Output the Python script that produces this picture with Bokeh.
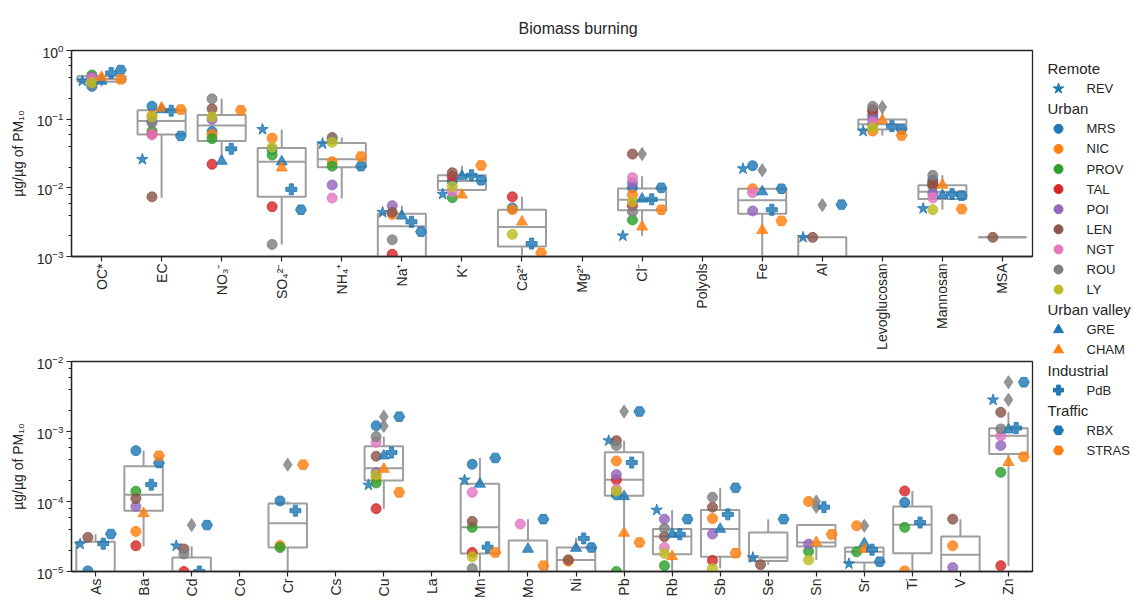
import math
from bokeh.plotting import figure
from bokeh.layouts import row, column
from bokeh.models import ColumnDataSource, FactorRange, Range1d, LogTicker, Title
from bokeh.transform import dodge
from bokeh.embed import file_html
from bokeh.resources import INLINE
from bokeh.core.properties import value

nan = float("nan")

# ---------------- categories ----------------
top_categories = ["OC*", "EC", "NO₃⁻", "SO₄²⁻", "NH₄⁺", "Na⁺", "K⁺", "Ca²⁺", "Mg²⁺", "Cl⁻",
                  "Polyols", "Fe", "Al", "Levoglucosan", "Mannosan", "MSA"]
bottom_categories = ["As", "Ba", "Cd", "Co", "Cr", "Cs", "Cu", "La", "Mn", "Mo",
                     "Ni", "Pb", "Rb", "Sb", "Se", "Sn", "Sr", "Ti", "V", "Zn"]

# ---------------- stations ----------------
groups = ["Remote", "Urban", "Urban valley", "Industrial", "Traffic"]
stations = ["REV", "MRS", "NIC", "PROV", "TAL", "POI", "LEN", "NGT", "ROU", "LY",
            "GRE", "CHAM", "PdB", "RBX", "STRAS"]
station_group = ["Remote", "Urban", "Urban", "Urban", "Urban", "Urban", "Urban", "Urban", "Urban", "Urban",
                 "Urban valley", "Urban valley", "Industrial", "Traffic", "Traffic"]

# ---------------- values (µg/µg of PM10), top panel ----------------
#            OC*   EC     NO3    SO4     NH4     Na       K       Ca       Mg   Cl      Pol  Fe      Al      Levo   Mann    MSA
REV_top   = [0.36, 0.026, nan,   0.071,  0.044,  0.0044,  0.0081, nan,     nan, 0.0020, nan, 0.019,  0.0019, 0.067, 0.0050, nan]
MRS_top   = [0.30, 0.154, 0.066, 0.036,  nan,    nan,     0.0125, 0.0051,  nan, 0.0100, nan, 0.021,  nan,    0.113, 0.0130, nan]
NIC_top   = [0.36, 0.113, 0.060, 0.053,  0.024,  0.0041,  nan,    0.0048,  nan, 0.0079, nan, 0.0097, nan,    0.067, nan,    nan]
PROV_top  = [0.44, 0.067, 0.052, 0.030,  0.0207, nan,     0.0072, nan,     nan, 0.0034, nan, nan,    nan,    0.085, 0.0105, nan]
TAL_top   = [0.40, 0.060, 0.022, 0.0053, nan,    0.00108, 0.0147, 0.0074,  nan, 0.0055, nan, nan,    nan,    0.130, 0.0114, nan]
POI_top   = [0.41, 0.094, 0.099, nan,    0.011,  0.0055,  nan,    nan,     nan, 0.0118, nan, 0.0046, nan,    0.100, 0.0083, nan]
LEN_top   = [0.38, 0.0074, 0.142, nan,   0.054,  0.0044,  0.0166, nan,     nan, 0.031,  nan, nan,    0.0019, 0.140, 0.0120, 0.0019]
NGT_top   = [0.39, 0.060, nan,   nan,    0.0071, nan,     0.0088, nan,     nan, 0.0141, nan, 0.0085, nan,    0.090, 0.0071, nan]
ROU_top   = [0.32, 0.089, 0.198, 0.0015, 0.051,  0.00175, nan,    nan,     nan, 0.0045, nan, nan,    nan,    0.154, 0.0152, nan]
LY_top    = [0.34, 0.108, 0.108, 0.039,  0.046,  nan,     0.0104, 0.0021,  nan, 0.0063, nan, nan,    nan,    0.075, 0.0048, nan]
GRE_top   = [0.36, 0.138, 0.0245, 0.024, nan,    0.0039,  0.0148, nan,     nan, 0.0069, nan, 0.0088, nan,    nan,   0.0078, nan]
CHAM_top  = [0.41, 0.146, nan,   0.0196, nan,    nan,     0.0079, 0.0032,  nan, 0.0027, nan, 0.0024, nan,    0.096, 0.0110, nan]
PdB_top   = [0.47, 0.133, 0.037, 0.0095, nan,    0.0032,  0.0152, 0.00154, nan, 0.0068, nan, 0.0048, nan,    0.079, 0.0081, nan]
RBX_top   = [0.52, 0.057, nan,   0.0048, 0.0207, 0.0023,  0.0129, nan,     nan, 0.0100, nan, 0.0097, 0.0057, 0.071, 0.0077, nan]
STRAS_top = [0.38, 0.138, 0.135, nan,    0.0285, nan,     0.0212, 0.00113, nan, 0.0048, nan, 0.0033, nan,    0.058, 0.0049, nan]

# ---------------- values, bottom panel ----------------
#            As      Ba      Cd      Co   Cr      Cs   Cu      La   Mn      Mo      Ni      Pb      Rb      Sb      Se      Sn      Sr      Ti      V       Zn
REV_bot   = [2.46e-5, nan,   2.33e-5, nan, nan,    nan, 1.72e-4, nan, 2.03e-4, nan,   nan,    7.4e-4, 7.55e-5, nan,   1.58e-5, nan,   1.29e-5, nan,   nan,    2.83e-3]
MRS_bot   = [1.02e-5, 5.33e-4, nan,  nan, 1.02e-4, nan, 1.21e-3, nan, 3.4e-4, nan,    nan,    1.24e-4, nan,   nan,    nan,    nan,    nan,    9.7e-5, nan,    nan]
NIC_bot   = [nan,   3.74e-5, nan,    nan, 2.35e-5, nan, 2.2e-4, nan,  nan,    nan,    1.4e-5, 3.8e-4, nan,    5.7e-5, nan,    1.0e-4, 4.5e-5, 1.02e-5, 2.33e-5, nan]
PROV_bot  = [nan,   1.40e-4, nan,    nan, 2.2e-5, nan,  1.84e-4, nan, 4.27e-5, nan,   nan,    1.0e-5, 1.21e-5, nan,   nan,    1.94e-5, 1.91e-5, 4.27e-5, nan,  2.61e-4]
TAL_bot   = [nan,   2.33e-5, 1.0e-5, nan, nan,    nan,  7.9e-5, nan,  1.87e-5, nan,   nan,    2.04e-4, nan,   1.44e-5, nan,   nan,    nan,    1.41e-4, nan,   1.21e-5]
POI_bot   = [nan,   8.5e-5, nan,     nan, nan,    nan,  2.6e-4, nan,  nan,    nan,    nan,    2.42e-4, 5.6e-5, 3.43e-5, nan,   2.47e-5, nan,   nan,    1.14e-5, 6.3e-4]
LEN_bot   = [3.07e-5, 1.10e-4, 2.1e-5, nan, nan,  nan,  4.43e-4, nan, 5.2e-5, nan,    1.47e-5, 7.4e-4, 3.15e-5, 8.3e-5, 1.25e-5, nan,  nan,    nan,    5.6e-5, 1.88e-3]
NGT_bot   = [nan,   nan,    nan,     nan, nan,    nan,  7.0e-4, nan,  1.35e-4, 4.76e-5, nan,  1.5e-4, 2.2e-5, nan,    nan,    nan,    nan,    nan,    nan,    8.7e-4]
ROU_bot   = [nan,   nan,    1.78e-5, nan, nan,    nan,  8.45e-4, nan, 1.1e-5, nan,    nan,    6.3e-4, 4.13e-5, 1.15e-4, nan,  nan,    nan,    nan,    nan,    1.09e-3]
LY_bot    = [nan,   nan,    nan,     nan, nan,    nan,  2.4e-4, nan,  1.62e-5, nan,   nan,    1.4e-4, 1.81e-5, 1.1e-5, nan,   1.46e-5, nan,   nan,    nan,    nan]
GRE_bot   = [nan,   nan,    nan,     nan, nan,    nan,  4.5e-4, nan,  1.78e-4, 2.09e-5, 2.16e-5, 1.18e-4, 3.43e-5, 4.04e-5, nan, nan,  2.51e-5, nan,   nan,    1.06e-3]
CHAM_bot  = [nan,   6.75e-5, nan,    nan, nan,    nan,  2.9e-4, nan,  nan,    nan,    nan,    3.55e-5, 1.64e-5, nan,  nan,    2.6e-5, 2.09e-5, nan,   nan,    3.63e-4]
PdB_bot   = [2.5e-5, 1.74e-4, 1.0e-5, nan, 7.4e-5, nan, 5.0e-4, nan,  2.22e-5, nan,   2.97e-5, 3.6e-4, 3.4e-5, 6.55e-5, nan,  8.3e-5, 2.05e-5, 5.0e-5, nan,   1.12e-3]
RBX_bot   = [3.43e-5, 3.55e-4, 4.6e-5, nan, nan,  nan,  1.63e-3, nan, 4.19e-4, 5.6e-5, 2.2e-5, 1.93e-3, 5.6e-5, 1.57e-4, 5.6e-5, nan, 1.38e-5, nan,   nan,    5.06e-3]
STRAS_bot = [nan,   4.5e-4, nan,     nan, 3.36e-4, nan, 1.35e-4, nan, 1.87e-5, 1.21e-5, nan,  2.6e-5, nan,    1.83e-5, nan,   3.39e-5, nan,   nan,    nan,    4.37e-4]

# ---------------- box statistics (q1, median, q3, lower whisker, upper whisker) ----------------
top_q1  = [0.35, 0.060, 0.048, 0.0074, 0.020, 0.0008,  0.0093, 0.0014, nan, 0.0047, nan, 0.0042, 0.0003, 0.071, 0.0069, 0.0019]
top_med = [0.38, 0.094, 0.081, 0.024,  0.026, 0.00275, 0.0126, 0.0027, nan, 0.0067, nan, 0.0066, 0.0008, 0.084, 0.0088, 0.0019]
top_q3  = [0.42, 0.135, 0.115, 0.038,  0.045, 0.0042,  0.0152, 0.0048, nan, 0.0098, nan, 0.0097, 0.0019, 0.099, 0.0109, 0.0019]
top_wlo = [0.30, 0.0072, 0.028, 0.0015, 0.007, 0.0005, 0.0072, 0.0008, nan, 0.0020, nan, 0.0008, 0.0002, 0.058, 0.0048, 0.0019]
top_whi = [0.47, 0.154, 0.198, 0.071,  0.054, 0.0055,  0.021,  0.0074, nan, 0.0147, nan, 0.0097, 0.0019, 0.137, 0.0152, 0.0019]

bot_q1  = [5e-6,    7.4e-5,  5e-6,    nan, 2.2e-5, nan, 2.0e-4,  nan, 1.81e-5, 8e-6,    8e-6,    1.21e-4, 1.77e-5, 1.62e-5, 1.41e-5, 2.28e-5, 1.35e-5, 1.83e-5, 8e-6,    4.79e-4]
bot_med = [8e-6,    1.25e-4, 8e-6,    nan, 4.9e-5, nan, 2.98e-4, nan, 4.27e-5, 9e-6,    1.46e-5, 2.04e-4, 3.17e-5, 4.04e-5, 1.58e-5, 2.6e-5,  1.91e-5, 4.66e-5, 1.73e-5, 8.7e-4]
bot_q3  = [2.66e-5, 3.18e-4, 1.58e-5, nan, 9.4e-5, nan, 6.15e-4, nan, 1.8e-4,  2.78e-5, 2.2e-5,  5.05e-4, 4.04e-5, 7.55e-5, 3.6e-5,  4.6e-5,  2.21e-5, 8.5e-5,  3.16e-5, 1.11e-3]
bot_wlo = [3e-6,    2.3e-5,  3e-6,    nan, 5e-6,   nan, 7.9e-5,  nan, 8e-6,    5e-6,    5e-6,    8e-6,    9e-6,    1.1e-5,  1.25e-5, 1.46e-5, 9e-6,    9e-6,    5e-6,    1.21e-5]
bot_whi = [3.4e-5,  5.3e-4,  2.3e-5,  nan, 1.0e-4, nan, 8.5e-4,  nan, 4.2e-4,  5.6e-5,  3.0e-5,  7.4e-4,  7.55e-5, 1.57e-4, 5.6e-5,  4.6e-5,  2.5e-5,  1.41e-4, 5.6e-5,  1.88e-3]

# ---------------- box outliers ----------------
top_outlier_cats = ["Cl⁻", "Fe", "Al", "Levoglucosan"]
top_outlier_vals = [0.031, 0.018, 0.0056, 0.150]
bot_outlier_cats = ["Cd", "Cr", "Cu", "Cu", "Pb", "Sn", "Sn", "Sr", "Zn", "Zn"]
bot_outlier_vals = [4.6e-5, 3.36e-4, 1.63e-3, 1.2e-3, 1.93e-3, 1.0e-4, 8.4e-5, 4.5e-5, 5.06e-3, 2.83e-3]

top_values = [REV_top, MRS_top, NIC_top, PROV_top, TAL_top, POI_top, LEN_top, NGT_top, ROU_top, LY_top,
              GRE_top, CHAM_top, PdB_top, RBX_top, STRAS_top]
bot_values = [REV_bot, MRS_bot, NIC_bot, PROV_bot, TAL_bot, POI_bot, LEN_bot, NGT_bot, ROU_bot, LY_bot,
              GRE_bot, CHAM_bot, PdB_bot, RBX_bot, STRAS_bot]

# ---------------- styles ----------------
FONT = "Liberation Sans"
TEXT_COLOR = "#262626"
BOX_COLOR = "#9e9e9e"
group_offset = {"Remote": -0.32, "Urban": -0.16, "Urban valley": 0.0, "Industrial": 0.16, "Traffic": 0.32}
station_marker = ["star", "circle", "circle", "circle", "circle", "circle", "circle", "circle", "circle", "circle",
                  "triangle", "triangle", "plus", "hex", "hex"]
station_color = ["#1f77b4", "#1f77b4", "#ff7f0e", "#2ca02c", "#d62728", "#9467bd", "#8c564b", "#e377c2",
                 "#7f7f7f", "#bcbd22", "#1f77b4", "#ff7f0e", "#1f77b4", "#1f77b4", "#ff7f0e"]
marker_size = {"star": 12, "circle": 10, "triangle": 11, "plus": 11, "hex": 11}

FIG_W = 1034


def make_panel(cats, values, q1, med, q3, wlo, whi, out_cats, out_vals, yrange,
               height, border_top, border_bottom):
    p = figure(x_range=FactorRange(factors=cats), y_range=Range1d(*yrange), y_axis_type="log",
               width=FIG_W, height=height, min_border_left=71, min_border_right=2,
               min_border_top=border_top, min_border_bottom=border_bottom,
               toolbar_location=None, tools="", output_backend="svg")
    p.xgrid.visible = False
    p.ygrid.visible = False
    p.outline_line_color = TEXT_COLOR
    p.outline_line_width = 1.3
    p.outline_line_alpha = 1.0

    for ax in (p.xaxis[0], p.yaxis[0]):
        ax.axis_line_color = TEXT_COLOR
        ax.axis_line_width = 1.3
        ax.major_tick_line_color = TEXT_COLOR
        ax.minor_tick_line_color = TEXT_COLOR
        ax.major_tick_line_width = 1.2
        ax.major_tick_in = 0
        ax.major_tick_out = 5
        ax.minor_tick_in = 0
        ax.minor_tick_out = 3
        ax.major_label_text_font = FONT
        ax.major_label_text_color = TEXT_COLOR
        ax.major_label_text_font_size = "14px"
    p.xaxis.major_label_orientation = math.pi / 2
    p.xaxis.major_label_standoff = 2
    p.yaxis.major_label_standoff = 3
    p.yaxis.ticker = LogTicker(desired_num_ticks=4)
    p.yaxis.axis_label = "µg/µg of PM₁₀"
    p.yaxis.axis_label_text_font = FONT
    p.yaxis.axis_label_text_font_size = "14px"
    p.yaxis.axis_label_text_font_style = "normal"
    p.yaxis.axis_label_text_color = TEXT_COLOR
    p.yaxis.axis_label_standoff = 8

    # boxes
    keep = [i for i in range(len(cats)) if q1[i] == q1[i]]
    bsrc = ColumnDataSource(dict(cat=[cats[i] for i in keep], q1=[q1[i] for i in keep],
                                 med=[med[i] for i in keep], q3=[q3[i] for i in keep],
                                 wlo=[wlo[i] for i in keep], whi=[whi[i] for i in keep]))
    p.segment(x0="cat", y0="q3", x1="cat", y1="whi", source=bsrc, line_color=BOX_COLOR, line_width=2)
    p.segment(x0="cat", y0="q1", x1="cat", y1="wlo", source=bsrc, line_color=BOX_COLOR, line_width=2)
    p.vbar(x="cat", width=0.8, bottom="q1", top="q3", source=bsrc, fill_color="white",
           line_color=BOX_COLOR, line_width=2)
    p.segment(x0=dodge("cat", -0.4, range=p.x_range), y0="med",
              x1=dodge("cat", 0.4, range=p.x_range), y1="med",
              source=bsrc, line_color=BOX_COLOR, line_width=2)
    osrc = ColumnDataSource(dict(cat=out_cats, val=out_vals))
    p.scatter(x="cat", y="val", source=osrc, marker="diamond", size=13, fill_color="#8a8a8a",
              line_color="#8a8a8a", alpha=0.9)

    # station points
    for s, name in enumerate(stations):
        vals = values[s]
        xs = [cats[i] for i in range(len(cats)) if vals[i] == vals[i]]
        ys = [vals[i] for i in range(len(cats)) if vals[i] == vals[i]]
        src = ColumnDataSource(dict(cat=xs, val=ys))
        mk = station_marker[s]
        p.scatter(x=dodge("cat", group_offset[station_group[s]], range=p.x_range), y="val",
                  source=src, marker=mk, size=marker_size[mk],
                  fill_color=station_color[s], line_color=station_color[s], alpha=0.82)
    return p


top = make_panel(top_categories, top_values, top_q1, top_med, top_q3, top_wlo, top_whi,
                 top_outlier_cats, top_outlier_vals, (1e-3, 1.0), 352, 50, 93)
top.add_layout(Title(text="Biomass burning", align="left", offset=447, text_font=FONT,
                     text_font_size="16px", text_font_style="normal", text_color=TEXT_COLOR,
                     vertical_align="top", standoff=24), "above")

bottom = make_panel(bottom_categories, bot_values, bot_q1, bot_med, bot_q3, bot_wlo, bot_whi,
                    bot_outlier_cats, bot_outlier_vals, (1e-5, 1e-2), 248, 9, 29)

# ---------------- legend ----------------
LEG_W, LEG_H = 99, 600
leg = figure(width=LEG_W, height=LEG_H, x_range=Range1d(0, LEG_W), y_range=Range1d(LEG_H, 0),
             x_axis_location=None, y_axis_location=None, toolbar_location=None, tools="",
             min_border=0, output_backend="svg")
leg.grid.visible = False
leg.outline_line_color = None

rows_title_y, rows_title_t = [], []
row_i = 0
for g in groups:
    rows_title_y.append(68 + 20.1 * row_i)
    rows_title_t.append(g)
    row_i += 1
    for s, name in enumerate(stations):
        if station_group[s] != g:
            continue
        y = 68 + 20.1 * row_i
        mk = station_marker[s]
        leg.scatter(x=[24], y=[y], marker=mk, size=marker_size[mk] - 1,
                    fill_color=station_color[s], line_color=station_color[s])
        leg.text(x=[52], y=[y], text=[name], text_baseline="middle", text_align="left",
                 text_font=value(FONT), text_font_size="13px", text_color=TEXT_COLOR)
        row_i += 1
leg.text(x=[13] * len(rows_title_y), y=rows_title_y, text=rows_title_t, text_baseline="middle",
         text_align="left", text_font=value(FONT), text_font_size="15px", text_color=TEXT_COLOR)

layout = row(column(top, bottom), leg)
open("out.html", "w").write(file_html(layout, INLINE))
